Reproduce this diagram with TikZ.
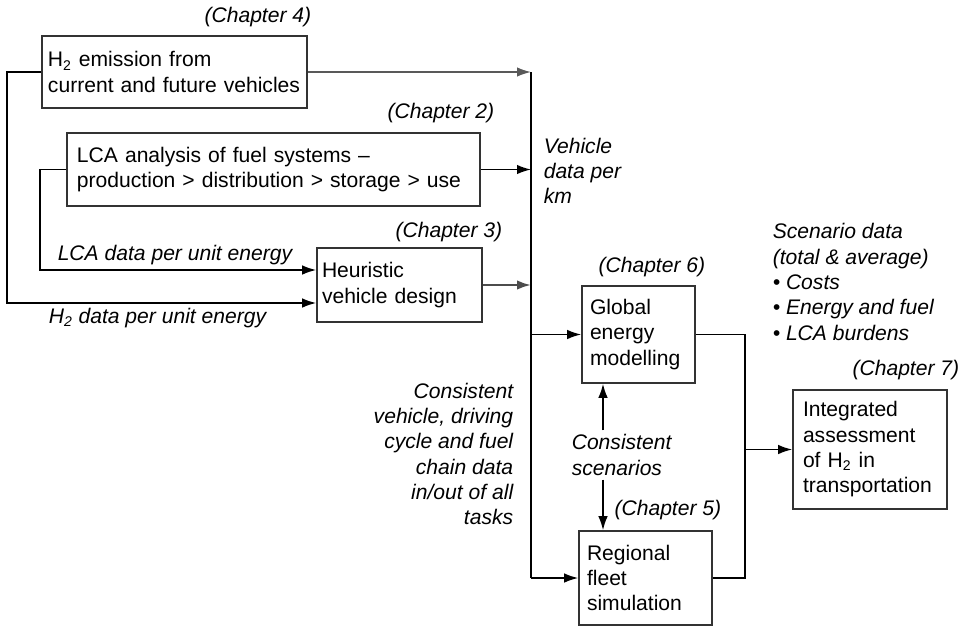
\documentclass[tikz,border=0pt]{standalone}
\usepackage{fontspec}
\setmainfont{Liberation Sans}
\usetikzlibrary{arrows.meta}

\tikzset{
  box/.style={draw=black!80, line width=0.9pt, align=left, inner ysep=0pt},
  lab/.style={font=\fontsize{12}{14.4}\selectfont\itshape, inner sep=0pt},
}

\begin{document}
\begin{tikzpicture}[x=0.2mm, y=-0.2mm, font=\fontsize{12}{14.4}\selectfont, line width=0.9pt, >={Latex[length=2.8mm,width=1.9mm]}]
\useasboundingbox (0,0) rectangle (965,627);
% task boxes
\node[box, text width=50.6mm, inner xsep=1.2mm, minimum height=14.4mm] (emis) at (174.5,72) {H\textsubscript{2} emission from\\current and future vehicles};
\node[box, text width=78.6mm, inner xsep=2mm, minimum height=14.6mm] (lca) at (273.5,169.5) {LCA analysis of fuel systems --\\production > distribution > storage > use};
\node[box, text width=31mm, inner xsep=1mm, minimum height=14.8mm] (heur) at (399.5,285) {Heuristic\\vehicle design};
\node[box, text width=19.4mm, inner xsep=1.6mm, minimum height=19.4mm] (glob) at (638.5,334.5) {Global\\energy\\modelling};
\node[box, text width=23.4mm, inner xsep=1.6mm, minimum height=18.8mm] (regi) at (645.5,578) {Regional\\fleet\\simulation};
\node[box, text width=26.8mm, inner xsep=2mm, minimum height=23.8mm] (integ) at (870,449.5) {Integrated\\assessment\\of H\textsubscript{2} in\\transportation};
% chapter labels
\foreach \c/\x/\y in {4/312/17, 2/495/113, 3/503/232, 6/706/267, 5/722/510, 7/960/370}
  \node[lab, anchor=east] (ch\c) at (\x,\y) {(Chapter \c)};
% data labels
\node[lab, anchor=west, align=left] (vdat) at (543,171) {Vehicle\\data per\\km};
\node[lab] (lcad) at (175,255) {LCA data per unit energy};
\node[lab] (h2d) at (157.5,318) {H\textsubscript{2} data per unit energy};
\node[lab, anchor=east, align=right] (cons) at (514,454) {Consistent\\vehicle, driving\\cycle and fuel\\chain data\\in/out of all\\tasks};
\node[lab, anchor=west, align=left, inner ysep=2pt] (scen) at (571,455) {Consistent\\scenarios};
\node[lab, anchor=west, align=left] (sdat) at (772,282) {Scenario data\\(total \& average)\\\textbullet\ Costs\\\textbullet\ Energy and fuel\\\textbullet\ LCA burdens};
% connectors
\coordinate (bt) at (531,72);
\coordinate (bb) at (531,578);
\coordinate (lx) at (7,303);
\coordinate (mx) at (40,270);
\coordinate (rx) at (745,578);
\coordinate (sx) at (603,455);
\draw (bt) -- (bb);
\draw[->] (emis.west) -| (lx) -- (lx -| heur.west);
\draw[->] (lca.west) -| (mx) -- (mx -| heur.west);
\draw[->, black!65] (emis.east) -- (emis.east -| bt);
\draw[->] (lca.east) -- (lca.east -| bt);
\draw[->, black!70, line width=1.3pt] (heur.east) -- (heur.east -| bt);
\draw[->] (bt |- glob.west) -- (glob.west);
\draw[->] (bb) -- (regi.west);
\draw (glob.east) -| (rx) -- (regi.east);
\draw[->] (rx |- integ.west) -- (integ.west);
\draw[->] (sx |- scen.north) -- (sx |- glob.south);
\draw[->] (sx |- scen.south) -- (sx |- regi.north);
\end{tikzpicture}
\end{document}
